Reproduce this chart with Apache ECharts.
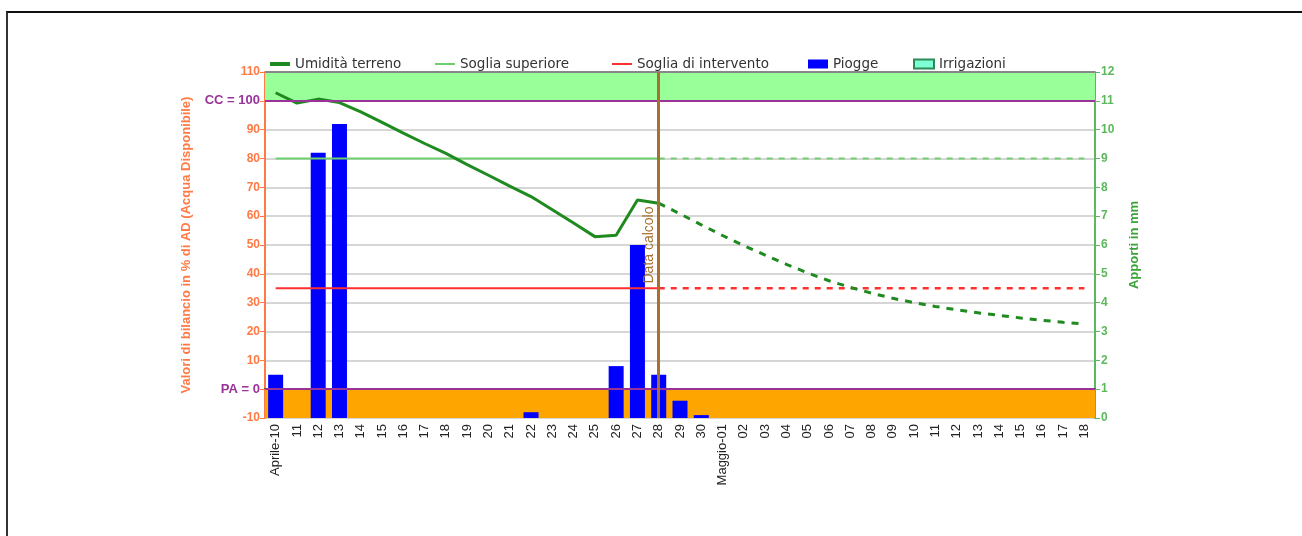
<!DOCTYPE html>
<html><head><meta charset="utf-8">
<script src="https://cdn.jsdelivr.net/npm/echarts@6/dist/echarts.min.js"></script>
<style>
html,body{margin:0;padding:0;background:#fff;width:1302px;height:536px;overflow:hidden}
#frame{position:absolute;left:6px;top:11px;width:1400px;height:600px;border-top:2px solid #111;border-left:2px solid #333;}
#chart{position:absolute;left:0;top:0;width:1302px;height:536px}
</style></head>
<body><div id="frame"></div><div id="chart"></div>
<script>
// ---- data ----
const categories = ['Aprile-10','11','12','13','14','15','16','17','18','19','20','21','22','23','24','25','26','27','28','29','30',
  'Maggio-01','02','03','04','05','06','07','08','09','10','11','12','13','14','15','16','17','18'];
// Umidità terreno (% AD), observed until "Data calcolo"
const umiditaOsservata = [102.8, 99.2, 100.6, 99.4, 96.2, 92.5, 88.8, 85.2, 81.8, 77.9, 74.2, 70.4, 66.8, 62.2, 57.6, 52.9, 53.4, 65.6, 64.5];
// Umidità terreno forecast, from "Data calcolo" onward
const umiditaPrevista = [64.5, 60.8, 57.0, 53.3, 49.8, 46.5, 43.3, 40.3, 37.6, 35.3, 33.3, 31.5, 30.0, 28.7, 27.5, 26.5, 25.6, 24.7, 23.9, 23.2, 22.6];
// Piogge (mm)
const piogge = [1.5, 0, 9.2, 10.2, 0, 0, 0, 0, 0, 0, 0, 0, 0.2, 0, 0, 0, 1.8, 6.0, 1.5, 0.6, 0.1,
  0, 0, 0, 0, 0, 0, 0, 0, 0, 0, 0, 0, 0, 0, 0, 0, 0, 0];
const irrigazioni = [];
const sogliaSuperiore = 80;
const sogliaIntervento = 35;
const capacitaCampo = 100;   // CC
const puntoAppassimento = 0; // PA
const dataCalcoloIndex = 18;
const leftTicks = {min: -10, max: 110, interval: 10};
const rightTicks = {min: 0, max: 12, interval: 1};

// ---- build ----
const umSolid = categories.map((c, i) => i < umiditaOsservata.length ? umiditaOsservata[i] : null);
const umDash = categories.map((c, i) => i >= dataCalcoloIndex ? umiditaPrevista[i - dataCalcoloIndex] : null);
const supSolid = categories.map((c, i) => i <= dataCalcoloIndex ? sogliaSuperiore : null);
const supDash = categories.map((c, i) => i >= dataCalcoloIndex ? sogliaSuperiore : null);
const intSolid = categories.map((c, i) => i <= dataCalcoloIndex ? sogliaIntervento : null);
const intDash = categories.map((c, i) => i >= dataCalcoloIndex ? sogliaIntervento : null);

const ORANGE = '#ff7a45';
const GREEN_AX = '#5cb85c';
const DARKGREEN = '#1f8a1f';
const LIGHTGREEN = '#6fcf6f';
const RED = '#ff3030';
const PURPLE = '#993399';
const BROWN = '#a8702e';

const legText = {fontFamily: 'DejaVu Sans', fontSize: 13.5, color: '#333'};
function leg(name, left, h) {
  return {left: left, top: 52, icon: 'rect', itemWidth: 20, itemHeight: h, itemGap: 0,
          textStyle: legText, selectedMode: false, data: [name]};
}

const chart = echarts.init(document.getElementById('chart'));
chart.setOption({
  animation: false,
  backgroundColor: 'transparent',
  grid: {left: 265, right: 207, top: 72, bottom: 118, containLabel: false},
  legend: [
    leg('Umidità terreno', 265, 4),
    leg('Soglia superiore', 430, 2),
    leg('Soglia di intervento', 607, 2),
    leg('Piogge', 803, 9),
    leg('Irrigazioni', 908, 9)
  ],
  xAxis: {
    type: 'category', data: categories, boundaryGap: true,
    axisLine: {lineStyle: {color: '#444', width: 2}},
    axisTick: {alignWithLabel: true, length: 6, lineStyle: {color: '#444'}},
    axisLabel: {rotate: 90, interval: 0, fontSize: 13, color: '#222', fontFamily: 'Liberation Sans', margin: 6},
    splitLine: {show: false}
  },
  yAxis: [{
    type: 'value', min: leftTicks.min, max: leftTicks.max, interval: leftTicks.interval, position: 'left',
    name: 'Valori di bilancio in % di AD (Acqua Disponibile)', nameLocation: 'middle', nameGap: 72, nameRotate: 90,
    nameTextStyle: {color: ORANGE, fontWeight: 'bold', fontSize: 13, fontFamily: 'Liberation Sans'},
    axisLine: {show: true, lineStyle: {color: ORANGE, width: 2}},
    axisTick: {show: true, length: 5, lineStyle: {color: ORANGE}},
    axisLabel: {
      color: ORANGE, fontWeight: 'bold', fontSize: 12, fontFamily: 'Liberation Sans', margin: 5,
      formatter: v => v === capacitaCampo ? '{p|CC = ' + v + '}' : (v === puntoAppassimento ? '{p|PA = ' + v + '}' : String(v)),
      rich: {p: {color: PURPLE, fontWeight: 'bold', fontSize: 13, fontFamily: 'Liberation Sans'}}
    },
    splitLine: {lineStyle: {color: '#d6d6d6', width: 2}}
  }, {
    type: 'value', min: rightTicks.min, max: rightTicks.max, interval: rightTicks.interval, position: 'right',
    name: 'Apporti in mm', nameLocation: 'middle', nameGap: 33, nameRotate: 90,
    nameTextStyle: {color: '#3aa23a', fontWeight: 'bold', fontSize: 13, fontFamily: 'Liberation Sans'},
    axisLine: {show: true, lineStyle: {color: GREEN_AX, width: 2}},
    axisTick: {show: true, length: 5, lineStyle: {color: GREEN_AX}},
    axisLabel: {color: GREEN_AX, fontWeight: 'bold', fontSize: 12, fontFamily: 'Liberation Sans', margin: 6},
    splitLine: {show: false}
  }],
  series: [
    {
      type: 'line', name: 'bands', data: [], yAxisIndex: 0, silent: true,
      markArea: {
        silent: true,
        data: [
          [{yAxis: capacitaCampo, itemStyle: {color: '#99ff99'}}, {yAxis: leftTicks.max}],
          [{yAxis: leftTicks.min, itemStyle: {color: '#ffa500'}}, {yAxis: puntoAppassimento}]
        ]
      }
    },
    {
      type: 'bar', name: 'Piogge', data: piogge, yAxisIndex: 1, barWidth: 15, barGap: '-100%',
      itemStyle: {color: '#0000ff'}
    },
    {
      type: 'bar', name: 'Irrigazioni', data: irrigazioni, yAxisIndex: 1, barWidth: 15, barGap: '-100%',
      itemStyle: {color: '#7fffd4', borderColor: '#2e8b57', borderWidth: 1}
    },
    {
      type: 'line', name: 'Soglia superiore', data: supSolid, yAxisIndex: 0, symbol: 'none',
      lineStyle: {color: LIGHTGREEN, width: 2}, itemStyle: {color: LIGHTGREEN}
    },
    {
      type: 'line', name: 'Soglia superiore prev', data: supDash, yAxisIndex: 0, symbol: 'none',
      lineStyle: {color: LIGHTGREEN, width: 2, type: [6, 6]}
    },
    {
      type: 'line', name: 'Soglia di intervento', data: intSolid, yAxisIndex: 0, symbol: 'none',
      lineStyle: {color: RED, width: 2}, itemStyle: {color: RED}
    },
    {
      type: 'line', name: 'Soglia di intervento prev', data: intDash, yAxisIndex: 0, symbol: 'none',
      lineStyle: {color: RED, width: 2.5, type: [6, 6]}
    },
    {
      type: 'line', name: 'Umidità terreno', data: umSolid, yAxisIndex: 0, symbol: 'none',
      lineStyle: {color: DARKGREEN, width: 3}, itemStyle: {color: DARKGREEN}
    },
    {
      type: 'line', name: 'Umidità terreno prev', data: umDash, yAxisIndex: 0, symbol: 'none',
      lineStyle: {color: DARKGREEN, width: 3, type: [7, 7]}
    },
    {
      type: 'line', name: 'refs', data: [], yAxisIndex: 0, silent: true,
      markLine: {
        silent: true, symbol: 'none', label: {show: false},
        data: [
          {yAxis: leftTicks.max, lineStyle: {color: '#888', width: 2, type: 'solid'}},
          {yAxis: capacitaCampo, lineStyle: {color: PURPLE, width: 2, type: 'solid'}},
          {yAxis: puntoAppassimento, lineStyle: {color: PURPLE, width: 2, type: 'solid'}},
          {xAxis: dataCalcoloIndex, lineStyle: {color: BROWN, width: 3, type: 'solid'},
           label: {show: true, formatter: 'Data calcolo', position: 'insideMiddleTop', color: BROWN,
                   fontSize: 14, fontFamily: 'Liberation Sans', distance: 3}}
        ]
      }
    }
  ]
});
</script>
</body></html>
